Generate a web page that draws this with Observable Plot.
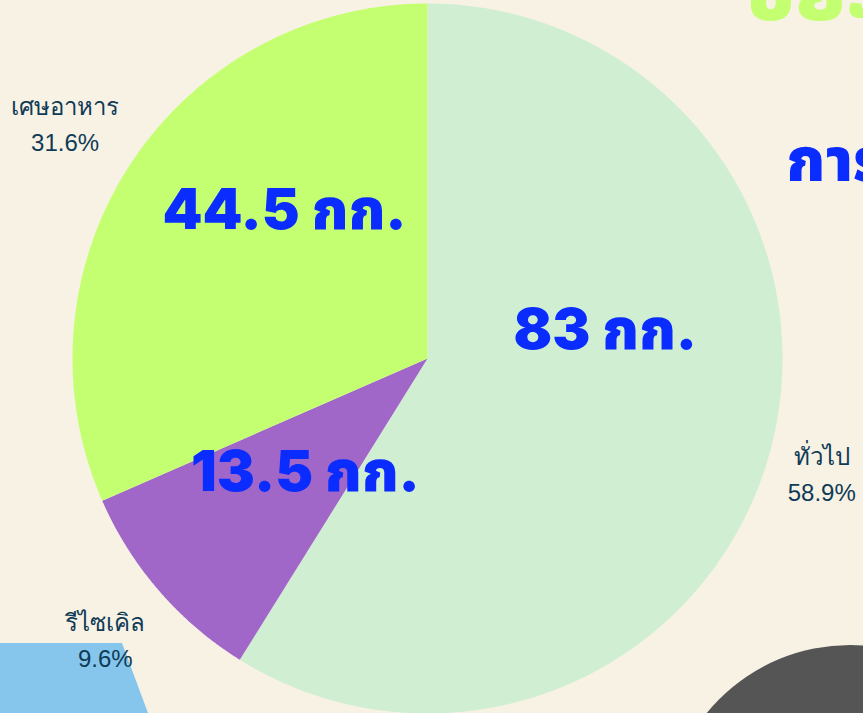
<!DOCTYPE html>
<html><head><meta charset="utf-8">
<script src="https://cdn.jsdelivr.net/npm/d3@7"></script>
<script src="https://cdn.jsdelivr.net/npm/@observablehq/plot@0.6"></script>
<style>
html,body{margin:0;padding:0;background:#f8f2e4;overflow:hidden;}
#chart{position:relative;width:863px;height:713px;}
</style></head>
<body><div id="chart"></div>
<script>
// data
const categories = ["ทั่วไป", "รีไซเคิล", "เศษอาหาร"];
const weightsKg = [83, 13.5, 44.5];
const weightLabels = ["83 กก.", "13.5 กก.", "44.5 กก."];
const sliceColors = ["#d0efd2", "#a066c8", "#c4ff72"];
// label layout (angle in degrees clockwise from top, radius in pie radii)
const innerLabelAngle = [81, 227, 316];
const innerLabelRadius = [0.507, 0.47, 0.58];
const outerLabelRadius = [1.155, 1.2, 1.22];

const W = 863, H = 713, CX = 427, CY = 358, R = 355;
const total = d3.sum(weightsKg);
let acc = 0;
const slices = categories.map((c, i) => {
  const a0 = acc / total * 360; acc += weightsKg[i];
  const a1 = acc / total * 360;
  return {c, i, a0, a1, mid: (a0 + a1) / 2, pct: weightsKg[i] / total * 100};
});
const rad = d => d * Math.PI / 180;
const polar = (deg, r) => [r * Math.sin(rad(deg)), r * Math.cos(rad(deg))];

// slice outlines (sampled arcs)
const arcPts = [];
for (const s of slices) {
  arcPts.push({c: s.c, x: 0, y: 0});
  const n = Math.max(2, Math.ceil((s.a1 - s.a0) * 4));
  for (let k = 0; k <= n; k++) {
    const [x, y] = polar(s.a0 + (s.a1 - s.a0) * k / n, 1);
    arcPts.push({c: s.c, x, y});
  }
}
const innerLbl = slices.map(s => {
  const [x, y] = polar(innerLabelAngle[s.i], innerLabelRadius[s.i]);
  return {x, y, t: weightLabels[s.i]};
});
const outerLbl = slices.map(s => {
  const [x, y] = polar(s.mid, outerLabelRadius[s.i]);
  return {x, y, t: s.c + "\n" + s.pct.toFixed(1) + "%"};
});

const boldFont = "Inter,'Noto Sans Thai','Noto Sans',sans-serif";

const plot = Plot.plot({
  width: W, height: H, margin: 0,
  style: {background: "transparent", overflow: "visible"},
  x: {domain: [-CX / R, (W - CX) / R], range: [0, W], axis: null},
  y: {domain: [-(H - CY) / R, CY / R], range: [H, 0], axis: null},
  color: {domain: categories, range: sliceColors},
  marks: [
    Plot.line(arcPts, {x: "x", y: "y", z: "c", fill: "c", stroke: "none", curve: "linear-closed"}),
    Plot.text(innerLbl, {x: "x", y: "y", text: "t", fill: "#0a2cff", fontSize: 57, fontWeight: 900,
      fontFamily: boldFont, letterSpacing: "-3px"}),
    Plot.text(outerLbl, {x: "x", y: "y", text: "t", fill: "#0f3b57", fontSize: 24,
      lineHeight: 1.5, fontFamily: "'Liberation Sans',Arial,sans-serif"})
  ]
});
plot.style.position = "absolute";
plot.style.left = "0px"; plot.style.top = "0px";

const chart = document.getElementById("chart");
// decorative background shapes
const deco = d3.create("svg").attr("width", W).attr("height", H)
  .style("position", "absolute").style("left", 0).style("top", 0);
deco.append("path").attr("d", "M0,643L122,643L148,713L0,713Z").attr("fill", "#86c6ec");
deco.append("circle").attr("cx", 850).attr("cy", 830).attr("r", 185).attr("fill", "#555555");
deco.append("text").attr("x", 746).attr("y", 20).attr("fill", "#c4ff72").attr("font-size", 80)
  .attr("font-weight", 900).attr("font-family", boldFont).text("ขยะ");
deco.append("text").attr("x", 786).attr("y", 181).attr("fill", "#0a2cff").attr("font-size", 60)
  .attr("font-weight", 900).attr("font-family", boldFont).text("การ");
chart.appendChild(deco.node());
chart.appendChild(plot);
</script></body></html>
